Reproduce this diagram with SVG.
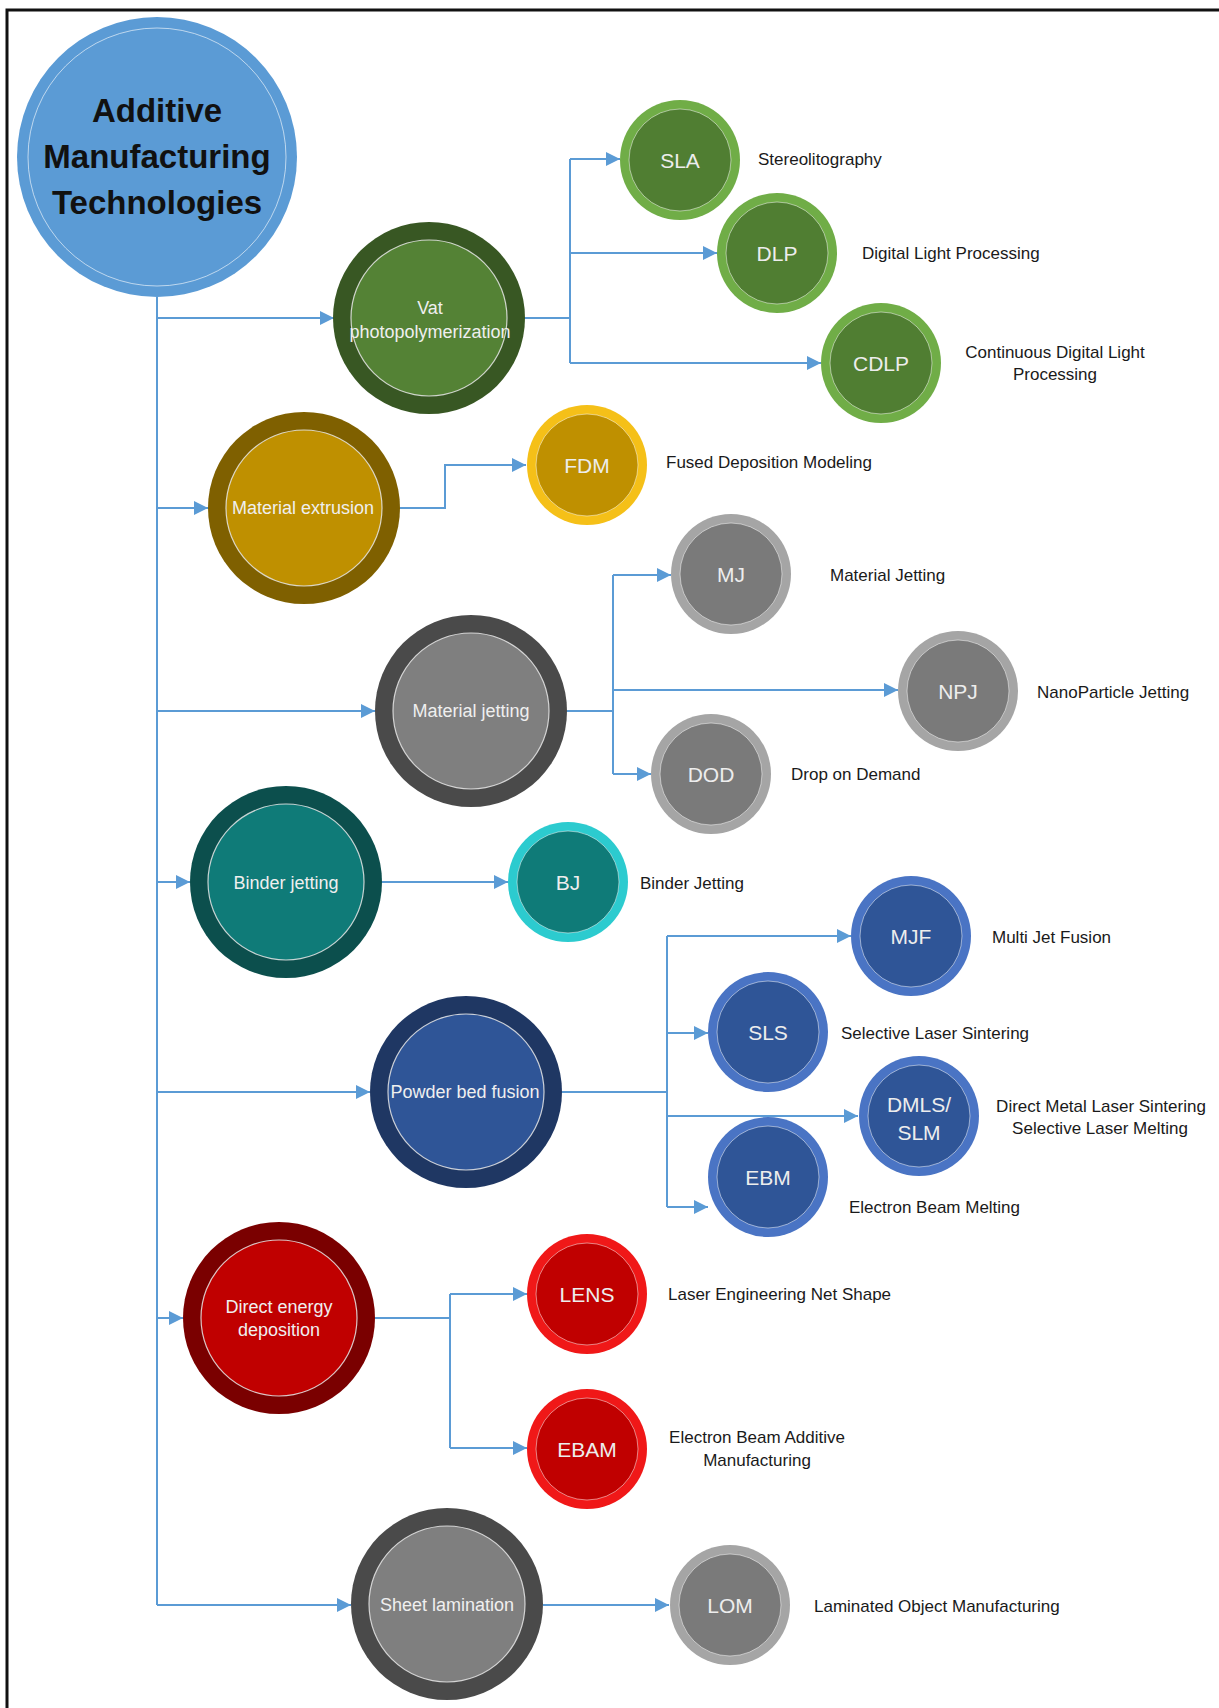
<svg xmlns="http://www.w3.org/2000/svg" width="1219" height="1708" viewBox="0 0 1219 1708">
<defs>
<marker id="arr" markerUnits="userSpaceOnUse" markerWidth="14" markerHeight="14" viewBox="0 0 12 12" refX="12" refY="6" orient="auto">
<path d="M0,0 L12,6 L0,12 z" fill="#5B9BD5"/>
</marker>
</defs>
<style>
.conn{fill:none;stroke:#5B9BD5;stroke-width:2}
.in1{stroke:#E8E8E8;stroke-width:1.2;stroke-opacity:0.85}
.in2{stroke:#FFFFFF;stroke-width:1;stroke-opacity:0.5}
.t1{font-family:"Liberation Sans",Arial,sans-serif;font-size:18px;fill:#EFEFEF;text-anchor:middle;dominant-baseline:central}
.t2{font-family:"Liberation Sans",Arial,sans-serif;font-size:21px;fill:#EDEDED;text-anchor:middle;dominant-baseline:central}
.lb{font-family:"Liberation Sans",Arial,sans-serif;font-size:17px;fill:#1A1A1A;dominant-baseline:central}
.lbc{font-family:"Liberation Sans",Arial,sans-serif;font-size:17px;fill:#1A1A1A;dominant-baseline:central;text-anchor:middle}
.root{font-family:"Liberation Sans",Arial,sans-serif;font-size:33px;font-weight:bold;fill:#111111;text-anchor:middle}
</style>
<rect x="0" y="0" width="1219" height="1708" fill="#FFFFFF"/>
<path d="M7,1708 V10 H1219" fill="none" stroke="#111111" stroke-width="3"/>

<g id="connectors">
<path class="conn" d="M157,297 V1605"/>
<path class="conn" d="M157,318 H334" marker-end="url(#arr)"/>
<path class="conn" d="M157,508 H208" marker-end="url(#arr)"/>
<path class="conn" d="M157,711 H375" marker-end="url(#arr)"/>
<path class="conn" d="M157,882 H190" marker-end="url(#arr)"/>
<path class="conn" d="M157,1092 H370" marker-end="url(#arr)"/>
<path class="conn" d="M157,1318 H183" marker-end="url(#arr)"/>
<path class="conn" d="M157,1605 H351" marker-end="url(#arr)"/>
<path class="conn" d="M524,318 H570"/>
<path class="conn" d="M570,159 V363"/>
<path class="conn" d="M570,159 H620" marker-end="url(#arr)"/>
<path class="conn" d="M570,253 H717" marker-end="url(#arr)"/>
<path class="conn" d="M570,363 H821" marker-end="url(#arr)"/>
<path class="conn" d="M400,508 H445 V465 H526" marker-end="url(#arr)"/>
<path class="conn" d="M567,711 H613"/>
<path class="conn" d="M613,575 V774"/>
<path class="conn" d="M613,575 H671" marker-end="url(#arr)"/>
<path class="conn" d="M613,690 H898" marker-end="url(#arr)"/>
<path class="conn" d="M613,774 H651" marker-end="url(#arr)"/>
<path class="conn" d="M382,882 H508" marker-end="url(#arr)"/>
<path class="conn" d="M562,1092 H667"/>
<path class="conn" d="M667,936 V1207"/>
<path class="conn" d="M667,936 H851" marker-end="url(#arr)"/>
<path class="conn" d="M667,1033 H708" marker-end="url(#arr)"/>
<path class="conn" d="M667,1116 H858" marker-end="url(#arr)"/>
<path class="conn" d="M667,1207 H708" marker-end="url(#arr)"/>
<path class="conn" d="M375,1318 H450"/>
<path class="conn" d="M450,1294 V1448"/>
<path class="conn" d="M450,1294 H527" marker-end="url(#arr)"/>
<path class="conn" d="M450,1448 H527" marker-end="url(#arr)"/>
<path class="conn" d="M543,1605 H669" marker-end="url(#arr)"/>
</g>

<g id="root">
<circle cx="157" cy="157" r="140" fill="#5B9BD5"/>
<circle cx="157" cy="157" r="129" fill="none" stroke="#FFFFFF" stroke-width="1" stroke-opacity="0.6"/>
<text class="root" x="157" y="122">Additive</text>
<text class="root" x="157" y="168">Manufacturing</text>
<text class="root" x="157" y="214">Technologies</text>
</g>

<g id="vat">
<circle cx="429" cy="318" r="96" fill="#385723"/>
<circle class="in1" cx="429" cy="318" r="78" fill="#548235"/>
<text class="t1" x="430" y="308">Vat</text>
<text class="t1" x="430" y="332">photopolymerization</text>
</g>
<g id="sla">
<circle cx="680" cy="160" r="60" fill="#70AD47"/>
<circle class="in2" cx="680" cy="160" r="51" fill="#507E32"/>
<text class="t2" x="680" y="160">SLA</text>
<text class="lb" x="758" y="159">Stereolitography</text>
</g>
<g id="dlp">
<circle cx="777" cy="253" r="60" fill="#70AD47"/>
<circle class="in2" cx="777" cy="253" r="51" fill="#507E32"/>
<text class="t2" x="777" y="253">DLP</text>
<text class="lb" x="862" y="253">Digital Light Processing</text>
</g>
<g id="cdlp">
<circle cx="881" cy="363" r="60" fill="#70AD47"/>
<circle class="in2" cx="881" cy="363" r="51" fill="#507E32"/>
<text class="t2" x="881" y="363">CDLP</text>
<text class="lbc" x="1055" y="352">Continuous Digital Light</text>
<text class="lbc" x="1055" y="374">Processing</text>
</g>

<g id="material-extrusion">
<circle cx="304" cy="508" r="96" fill="#7F6000"/>
<circle class="in1" cx="304" cy="508" r="78" fill="#BF9000"/>
<text class="t1" x="303" y="508">Material extrusion</text>
</g>
<g id="fdm">
<circle cx="587" cy="465" r="60" fill="#F5C018"/>
<circle class="in2" cx="587" cy="465" r="51" fill="#BF9000"/>
<text class="t2" x="587" y="465">FDM</text>
<text class="lb" x="666" y="462">Fused Deposition Modeling</text>
</g>

<g id="material-jetting">
<circle cx="471" cy="711" r="96" fill="#4A4A4A"/>
<circle class="in1" cx="471" cy="711" r="78" fill="#7F7F7F"/>
<text class="t1" x="471" y="711">Material jetting</text>
</g>
<g id="mj">
<circle cx="731" cy="574" r="60" fill="#A5A5A5"/>
<circle class="in2" cx="731" cy="574" r="51" fill="#7A7A7A"/>
<text class="t2" x="731" y="574">MJ</text>
<text class="lb" x="830" y="575">Material Jetting</text>
</g>
<g id="npj">
<circle cx="958" cy="691" r="60" fill="#A5A5A5"/>
<circle class="in2" cx="958" cy="691" r="51" fill="#7A7A7A"/>
<text class="t2" x="958" y="691">NPJ</text>
<text class="lb" x="1037" y="692">NanoParticle Jetting</text>
</g>
<g id="dod">
<circle cx="711" cy="774" r="60" fill="#A5A5A5"/>
<circle class="in2" cx="711" cy="774" r="51" fill="#7A7A7A"/>
<text class="t2" x="711" y="774">DOD</text>
<text class="lb" x="791" y="774">Drop on Demand</text>
</g>

<g id="binder-jetting">
<circle cx="286" cy="882" r="96" fill="#0C4F4D"/>
<circle class="in1" cx="286" cy="882" r="78" fill="#0F7B78"/>
<text class="t1" x="286" y="883">Binder jetting</text>
</g>
<g id="bj">
<circle cx="568" cy="882" r="60" fill="#2CCBCF"/>
<circle class="in2" cx="568" cy="882" r="51" fill="#0F7B78"/>
<text class="t2" x="568" y="882">BJ</text>
<text class="lb" x="640" y="883">Binder Jetting</text>
</g>

<g id="powder-bed-fusion">
<circle cx="466" cy="1092" r="96" fill="#1F3763"/>
<circle class="in1" cx="466" cy="1092" r="78" fill="#2F5597"/>
<text class="t1" x="465" y="1092">Powder bed fusion</text>
</g>
<g id="mjf">
<circle cx="911" cy="936" r="60" fill="#4A74C4"/>
<circle class="in2" cx="911" cy="936" r="51" fill="#2F5597"/>
<text class="t2" x="911" y="936">MJF</text>
<text class="lb" x="992" y="937">Multi Jet Fusion</text>
</g>
<g id="sls">
<circle cx="768" cy="1032" r="60" fill="#4A74C4"/>
<circle class="in2" cx="768" cy="1032" r="51" fill="#2F5597"/>
<text class="t2" x="768" y="1032">SLS</text>
<text class="lb" x="841" y="1033">Selective Laser Sintering</text>
</g>
<g id="dmls-slm">
<circle cx="919" cy="1116" r="60" fill="#4A74C4"/>
<circle class="in2" cx="919" cy="1116" r="51" fill="#2F5597"/>
<text class="t2" x="919" y="1104">DMLS/</text>
<text class="t2" x="919" y="1132">SLM</text>
<text class="lbc" x="1101" y="1106">Direct Metal Laser Sintering</text>
<text class="lbc" x="1100" y="1128">Selective Laser Melting</text>
</g>
<g id="ebm">
<circle cx="768" cy="1177" r="60" fill="#4A74C4"/>
<circle class="in2" cx="768" cy="1177" r="51" fill="#2F5597"/>
<text class="t2" x="768" y="1177">EBM</text>
<text class="lb" x="849" y="1207">Electron Beam Melting</text>
</g>

<g id="direct-energy-deposition">
<circle cx="279" cy="1318" r="96" fill="#7A0000"/>
<circle class="in1" cx="279" cy="1318" r="78" fill="#C00000"/>
<text class="t1" x="279" y="1307">Direct energy</text>
<text class="t1" x="279" y="1330">deposition</text>
</g>
<g id="lens">
<circle cx="587" cy="1294" r="60" fill="#F01818"/>
<circle class="in2" cx="587" cy="1294" r="51" fill="#C00000"/>
<text class="t2" x="587" y="1294">LENS</text>
<text class="lb" x="668" y="1294">Laser Engineering Net Shape</text>
</g>
<g id="ebam">
<circle cx="587" cy="1449" r="60" fill="#F01818"/>
<circle class="in2" cx="587" cy="1449" r="51" fill="#C00000"/>
<text class="t2" x="587" y="1449">EBAM</text>
<text class="lbc" x="757" y="1437">Electron Beam Additive</text>
<text class="lbc" x="757" y="1460">Manufacturing</text>
</g>

<g id="sheet-lamination">
<circle cx="447" cy="1604" r="96" fill="#4A4A4A"/>
<circle class="in1" cx="447" cy="1604" r="78" fill="#7F7F7F"/>
<text class="t1" x="447" y="1605">Sheet lamination</text>
</g>
<g id="lom">
<circle cx="730" cy="1605" r="60" fill="#A5A5A5"/>
<circle class="in2" cx="730" cy="1605" r="51" fill="#7A7A7A"/>
<text class="t2" x="730" y="1605">LOM</text>
<text class="lb" x="814" y="1606">Laminated Object Manufacturing</text>
</g>
</svg>
